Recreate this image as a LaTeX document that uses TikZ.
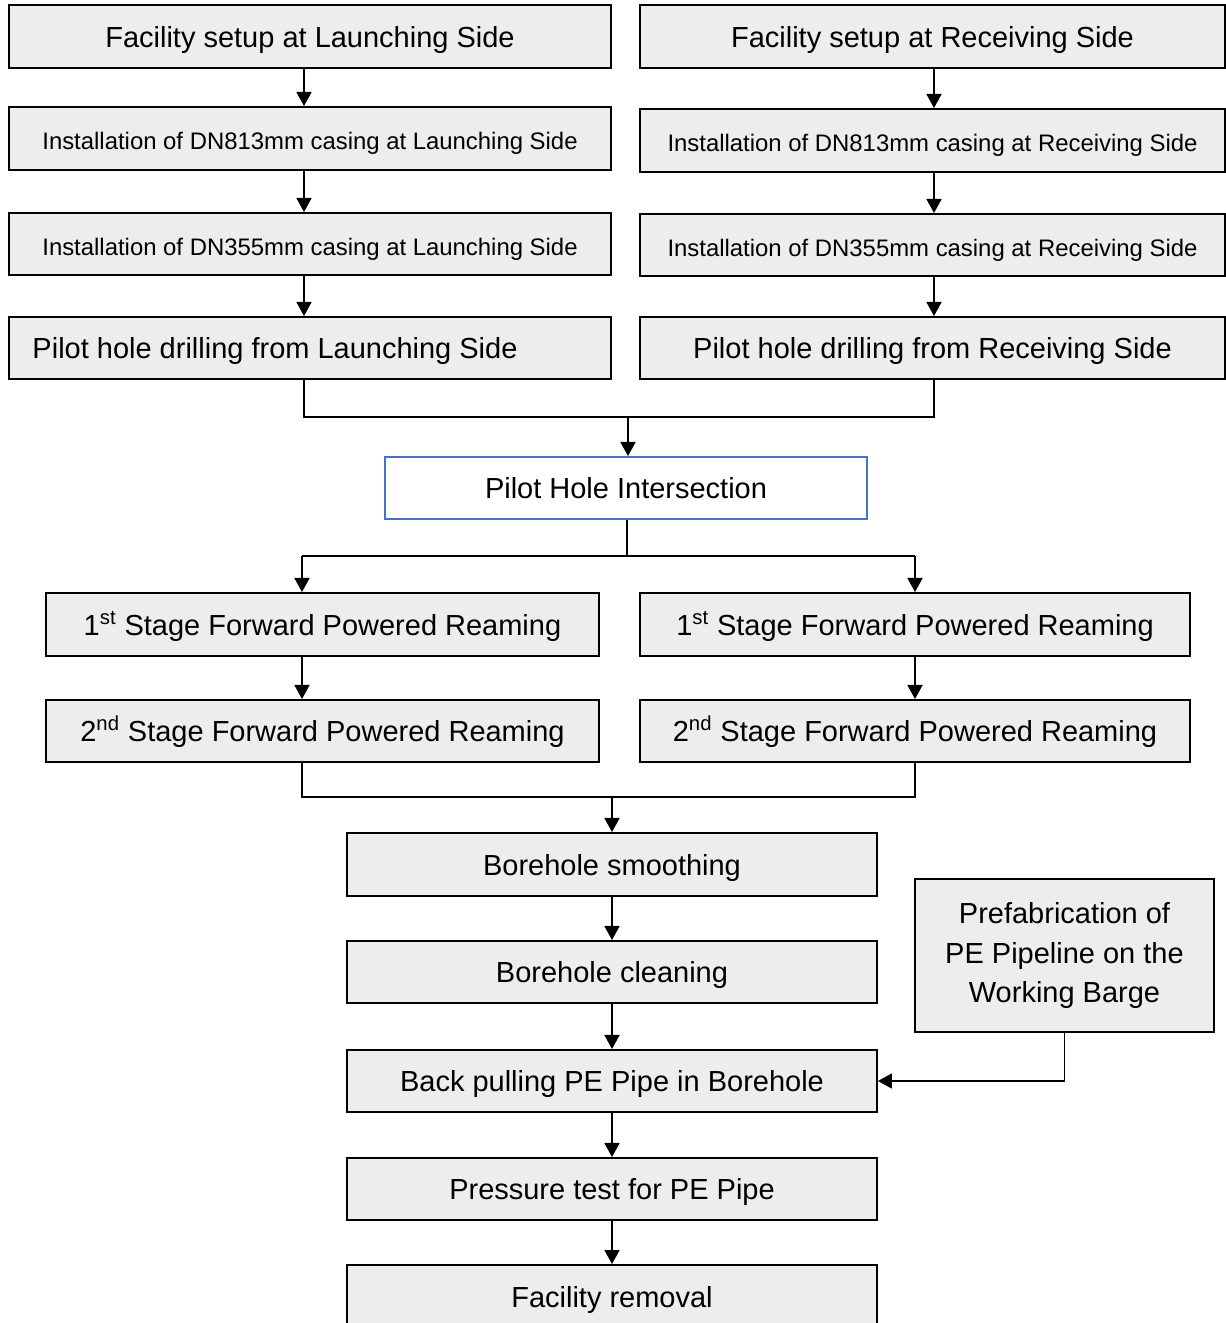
\documentclass[tikz,border=0pt]{standalone}
\usepackage{fontspec}
\setmainfont{Liberation Sans}
\usetikzlibrary{arrows.meta}
\definecolor{boxfill}{HTML}{EDEDED}
\definecolor{boxblue}{HTML}{4472C4}
\tikzset{
  basebox/.style={draw=black, line width=1.1pt, fill=boxfill, inner sep=0pt, font=\fontsize{16.5}{22.7}\selectfont},
  box/.style={basebox, text height=13pt, text depth=1pt},
  smallbox/.style={basebox, font=\fontsize{13.6}{17}\selectfont, text height=13.5pt, text depth=0.5pt},
  bluebox/.style={box, draw=boxblue, fill=white},
  conn/.style={line width=1.1pt, draw=black},
  arr/.style={conn, -{Triangle[length=8pt,width=8.5pt]}},
}
\begin{document}
\begin{tikzpicture}[x=0.02cm, y=-0.02cm]
\useasboundingbox[fill=white] (0,0) rectangle (1226,1323);
% top rows
\node[box, minimum width=12.04cm, minimum height=1.26cm] (fl) at (310,36.5) {Facility setup at Launching Side};
\node[box, minimum width=11.7cm, minimum height=1.26cm] (fr) at (932.5,36.5) {Facility setup at Receiving Side};
\node[smallbox, minimum width=12.04cm, minimum height=1.26cm] (il1) at (310,138.5) {Installation of DN813mm casing at Launching Side};
\node[smallbox, minimum width=11.7cm, minimum height=1.26cm] (ir1) at (932.5,140.5) {Installation of DN813mm casing at Receiving Side};
\node[smallbox, minimum width=12.04cm, minimum height=1.24cm] (il2) at (310,244) {Installation of DN355mm casing at Launching Side};
\node[smallbox, minimum width=11.7cm, minimum height=1.24cm] (ir2) at (932.5,245) {Installation of DN355mm casing at Receiving Side};
\node[box, minimum width=12.04cm, minimum height=1.24cm] (pl) at (310,348) {Pilot hole drilling from Launching Side\kern1.4cm};
\node[box, minimum width=11.7cm, minimum height=1.24cm] (pr) at (932.5,348) {Pilot hole drilling from Receiving Side};
\node[bluebox, minimum width=9.64cm, minimum height=1.24cm] (phi) at (626,488) {Pilot Hole Intersection};
\node[box, minimum width=11.06cm, minimum height=1.26cm] (s1l) at (322.5,624.5) {1\textsuperscript{st} Stage Forward Powered Reaming};
\node[box, minimum width=11.0cm, minimum height=1.26cm] (s1r) at (915,624.5) {1\textsuperscript{st} Stage Forward Powered Reaming};
\node[box, minimum width=11.06cm, minimum height=1.24cm] (s2l) at (322.5,731) {2\textsuperscript{nd} Stage Forward Powered Reaming};
\node[box, minimum width=11.0cm, minimum height=1.24cm] (s2r) at (915,731) {2\textsuperscript{nd} Stage Forward Powered Reaming};
\node[box, minimum width=10.6cm, minimum height=1.26cm] (bs) at (612,864.5) {Borehole smoothing};
\node[box, minimum width=10.6cm, minimum height=1.24cm] (bc) at (612,972) {Borehole cleaning};
\node[box, minimum width=10.6cm, minimum height=1.24cm] (bp) at (612,1081) {Back pulling PE Pipe in Borehole};
\node[box, minimum width=10.6cm, minimum height=1.24cm] (pt) at (612,1189) {Pressure test for PE Pipe};
\node[box, minimum width=10.6cm, minimum height=1.26cm] (fx) at (612,1296.5) {Facility removal};
\node[basebox, minimum width=5.98cm, minimum height=3.06cm, align=center] (pf) at (1064.5,955.5) {Prefabrication of\\PE Pipeline on the\\Working Barge};
% helper coordinates
\coordinate (cl) at (304,0);
\coordinate (cr) at (934,0);
\coordinate (m1) at (628,417);
\coordinate (m2) at (627,556);
\coordinate (c3) at (302,0);
\coordinate (m3) at (612,797);
% left column
\draw[arr] (fl.south -| cl) -- (il1.north -| cl);
\draw[arr] (il1.south -| cl) -- (il2.north -| cl);
\draw[arr] (il2.south -| cl) -- (pl.north -| cl);
% right column
\draw[arr] (fr.south -| cr) -- (ir1.north -| cr);
\draw[arr] (ir1.south -| cr) -- (ir2.north -| cr);
\draw[arr] (ir2.south -| cr) -- (pr.north -| cr);
% merge 1
\draw[conn] (pl.south -| cl) -- (cl |- m1) -- (cr |- m1) -- (pr.south -| cr);
\draw[arr] (m1) -- (phi.north -| m1);
% split
\draw[conn] (phi.south -| m2) -- (m2);
\draw[conn] (c3 |- m2) -- (s1r.north |- m2);
\draw[arr] (c3 |- m2) -- (s1l.north -| c3);
\draw[arr] (s1r.north |- m2) -- (s1r.north);
\draw[arr] (s1l.south -| c3) -- (s2l.north -| c3);
\draw[arr] (s1r.south) -- (s2r.north);
% merge 2
\draw[conn] (s2l.south -| c3) -- (c3 |- m3) -- (s2r.south |- m3) -- (s2r.south);
\draw[arr] (m3) -- (bs.north);
% center column
\draw[arr] (bs.south) -- (bc.north);
\draw[arr] (bc.south) -- (bp.north);
\draw[arr] (bp.south) -- (pt.north);
\draw[arr] (pt.south) -- (fx.north);
\draw[arr] (pf.south) |- (bp.east);
\end{tikzpicture}
\end{document}
